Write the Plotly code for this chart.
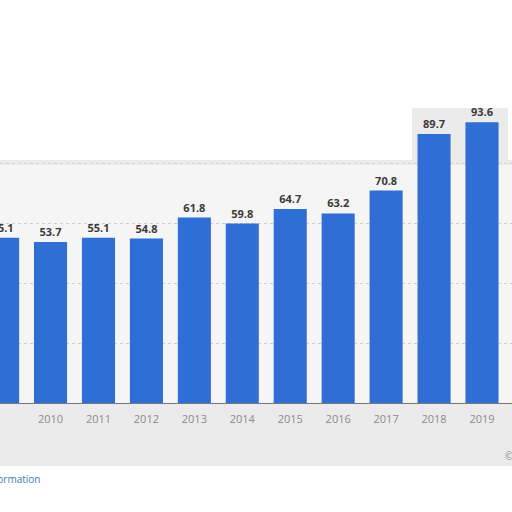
import plotly.graph_objects as go

years = [2009, 2010, 2011, 2012, 2013, 2014, 2015, 2016, 2017, 2018, 2019]
values = [55.1, 53.7, 55.1, 54.8, 61.8, 59.8, 64.7, 63.2, 70.8, 89.7, 93.6]
labels = [f"<b>{v:.1f}</b>" for v in values]
tick_text = [str(y) for y in years]

W, H = 512, 512
top_px, base_px = 103, 403  # plot area in pixels

def py(px):
    return (base_px - px) / (base_px - top_px)

fig = go.Figure()
fig.add_trace(go.Bar(
    x=years, y=values, text=labels, textposition="outside",
    textfont=dict(family="Open Sans, sans-serif", size=11, color="#3a3a3a"),
    marker=dict(color="#2f6fd5", line=dict(width=0)),
    width=0.69, cliponaxis=True,
))

shapes = [
    dict(type="rect", xref="paper", yref="paper", x0=0, x1=1, y0=py(466), y1=py(160),
         fillcolor="#ebebeb", line=dict(width=0), layer="below"),
    dict(type="rect", xref="paper", yref="paper", x0=412/W, x1=508/W, y0=py(162), y1=py(108),
         fillcolor="#ebebeb", line=dict(width=0), layer="below"),
    dict(type="rect", xref="paper", yref="paper", x0=0, x1=1, y0=0, y1=py(165),
         fillcolor="#f5f5f5", line=dict(width=0), layer="below"),
]

fig.update_layout(
    width=W, height=H,
    margin=dict(l=0, r=0, t=top_px, b=H - base_px),
    paper_bgcolor="white", plot_bgcolor="rgba(0,0,0,0)",
    showlegend=False,
    shapes=shapes,
    font=dict(family="Open Sans, sans-serif"),
    annotations=[
        dict(text="Additional Information", xref="paper", yref="paper",
             x=42/W, xanchor="right", y=py(479), yanchor="middle", showarrow=False,
             font=dict(size=10, color="#3d7eb5")),
        dict(text="© Statista 2020", xref="paper", yref="paper",
             x=503/W, xanchor="left", y=py(456), yanchor="middle", showarrow=False,
             font=dict(size=10, color="#888888")),
    ],
)
fig.update_xaxes(
    range=[2008.946, 2019.626], tickmode="array", tickvals=years, ticktext=tick_text,
    tickfont=dict(size=11, color="#8a8a8a"), showgrid=False, zeroline=False,
    showline=True, linecolor="#777777", linewidth=1,
    ticks="outside", ticklen=6, tickcolor="rgba(0,0,0,0)",
)
fig.update_yaxes(
    range=[0, 100], tickvals=[20, 40, 60, 80], showticklabels=False,
    showgrid=True, gridcolor="#cfcfcf", griddash="dot", gridwidth=1,
    zeroline=False, showline=False,
)

fig.write_html("out.html", config={"displayModeBar": False},
               post_script="document.body.style.margin='0';")
